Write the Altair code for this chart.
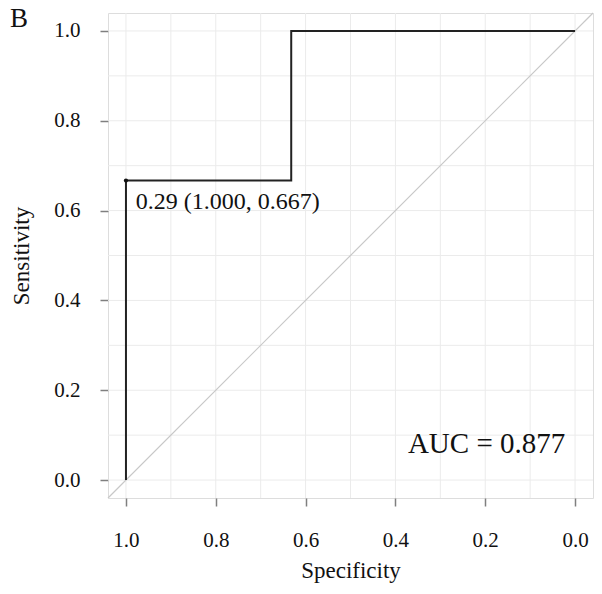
import altair as alt
import pandas as pd

# ROC curve points (specificity, sensitivity)
spec = [1.0, 1.0, 0.632, 0.632, 0.0]
sens = [0.0, 0.667, 0.667, 1.0, 1.0]
ticks = [0.0, 0.2, 0.4, 0.6, 0.8, 1.0]
grid_vals = [0.0, 0.1, 0.2, 0.3, 0.4, 0.5, 0.6, 0.7, 0.8, 0.9, 1.0]
dom = [-0.04, 1.04]

FONT = "Liberation Serif"

roc = pd.DataFrame({"spec": spec, "sens": sens, "order": list(range(len(spec)))})
grid = pd.DataFrame({"v": grid_vals})
diag = pd.DataFrame({"spec": [dom[1], dom[0]], "sens": [dom[0], dom[1]]})
best = pd.DataFrame({"spec": [1.0], "sens": [0.667], "label": ["0.29 (1.000, 0.667)"],
                     "lx": [0.978], "ly": [0.62]})
auc = pd.DataFrame({"x": [0.197], "y": [0.08], "label": ["AUC = 0.877"]})
panel = pd.DataFrame({"label": ["B"]})

xs = alt.Scale(domain=dom, reverse=True, nice=False, zero=False)
ys = alt.Scale(domain=dom, nice=False, zero=False)

xaxis = alt.Axis(values=ticks, format=".1f", title="Specificity", grid=False,
                 domain=False, tickSize=8, tickColor="#7f7f7f", tickWidth=1.5,
                 labelFont=FONT, labelFontSize=21, labelColor="#111",
                 labelPadding=23, titleFont=FONT, titleFontSize=23,
                 titleFontWeight="normal", titleColor="#111", titlePadding=9)
yaxis = alt.Axis(values=ticks, format=".1f", title="Sensitivity", grid=False,
                 domain=False, tickSize=8, tickColor="#7f7f7f", tickWidth=1.5,
                 labelFont=FONT, labelFontSize=21, labelColor="#111",
                 labelPadding=20, titleFont=FONT, titleFontSize=23,
                 titleFontWeight="normal", titleColor="#111", titlePadding=20)

vgrid = alt.Chart(grid).mark_rule(color="#ebebeb", strokeWidth=1).encode(
    x=alt.X("v:Q", scale=xs, axis=xaxis))
hgrid = alt.Chart(grid).mark_rule(color="#ebebeb", strokeWidth=1).encode(
    y=alt.Y("v:Q", scale=ys, axis=yaxis))

diag_line = alt.Chart(diag).mark_line(color="#c8c8c8", strokeWidth=1.2).encode(
    x=alt.X("spec:Q", scale=xs), y=alt.Y("sens:Q", scale=ys))

curve = alt.Chart(roc).mark_line(color="#222", strokeWidth=2).encode(
    x=alt.X("spec:Q", scale=xs), y=alt.Y("sens:Q", scale=ys), order="order:Q")

pt = alt.Chart(best).mark_point(filled=True, color="#111", size=18, opacity=1).encode(
    x=alt.X("spec:Q", scale=xs), y=alt.Y("sens:Q", scale=ys))

lbl = alt.Chart(best).mark_text(font=FONT, fontSize=24, align="left",
                                baseline="middle", color="#111").encode(
    x=alt.X("lx:Q", scale=xs), y=alt.Y("ly:Q", scale=ys), text="label:N")

auc_t = alt.Chart(auc).mark_text(font=FONT, fontSize=29, align="center",
                                 baseline="middle", color="#111").encode(
    x=alt.X("x:Q", scale=xs), y=alt.Y("y:Q", scale=ys), text="label:N")

panel_t = alt.Chart(panel).mark_text(font=FONT, fontSize=27, align="left",
                                     baseline="alphabetic", color="#111").encode(
    x=alt.value(-98), y=alt.value(14), text="label:N")

chart = alt.layer(vgrid, hgrid, diag_line, curve, pt, lbl, auc_t, panel_t).properties(
    width=485, height=485,
    autosize=alt.AutoSizeParams(type="none"),
    padding={"left": 100, "top": 5, "right": 1, "bottom": 88},
).configure_view(stroke="#7f7f7f", strokeWidth=2).configure(background="white")

chart.save("out.html", embed_options={"renderer": "svg", "actions": False})
